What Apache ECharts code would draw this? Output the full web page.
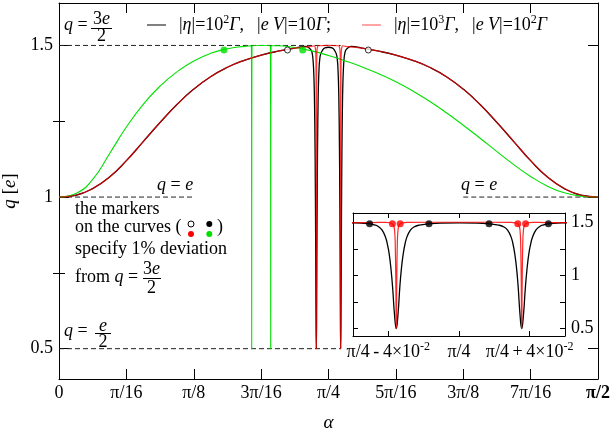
<!DOCTYPE html>
<html><head><meta charset="utf-8">
<script src="https://cdn.jsdelivr.net/npm/echarts@6/dist/echarts.min.js"></script>
<style>html,body{margin:0;padding:0;background:#fff}#c{width:611px;height:439px}</style>
</head><body><div id="c"></div>
<script>
const PI = Math.PI;
// ---------------- data ----------------
// main axis tick labels (alpha = i*pi/16)
const X_TICK_LABELS = ['0','π/16','π/8','3π/16','π/4','5π/16','3π/8','7π/16','π/2'];
const Y_MAJOR = [0.5, 1, 1.5];
const Y_MINOR = [0.75, 1.25];
// smooth envelopes sampled at alpha = k*pi/64, k = 0..32
const RB_ENV = [1.000,1.006,1.028,1.066,1.120,1.183,1.246,1.305,1.356,1.397,1.428,1.451,1.468,1.481,1.491,1.497,1.500,
                1.497,1.491,1.481,1.468,1.451,1.428,1.397,1.356,1.305,1.246,1.183,1.120,1.066,1.028,1.006,1.000];
const G_ENV  = [1.000,1.012,1.058,1.143,1.231,1.306,1.366,1.413,1.449,1.474,1.489,1.497,1.500,1.499,1.493,1.482,1.467,
                1.449,1.429,1.406,1.380,1.350,1.316,1.278,1.237,1.194,1.150,1.107,1.068,1.036,1.014,1.003,1.000];
// dip centres
const RB_DIP_OFF = [-0.0355, 0.0355];          // offset from pi/4 (rad)
const G_DIP_ALPHA = [0.5616, 0.617];           // rad
// black dip profile (left dip; right dip is its mirror about pi/4)
const BLACK_DIP_D = [-0.030,-0.024,-0.020,-0.0151,-0.012,-0.010,-0.008,-0.006,-0.005,-0.004,-0.003,-0.002,-0.001,0,
                     0.001,0.002,0.003,0.004,0.005,0.006,0.008,0.010,0.013,0.0185,0.025,0.0355];
const BLACK_DIP_Q = [1.497,1.494,1.491,1.485,1.474,1.458,1.425,1.355,1.29,1.20,1.06,0.87,0.63,0.5,
                     0.64,0.89,1.08,1.21,1.30,1.36,1.425,1.455,1.473,1.485,1.492,1.494];
// red dip profile
const RED_DIP_D = [-0.006,-0.0035,-0.0022,-0.0014,-0.0009,-0.0006,-0.0003,0,0.0003,0.0006,0.0009,0.0014,0.0022,0.0035,0.006];
const RED_DIP_Q = [1.499,1.494,1.485,1.465,1.41,1.30,1.00,0.5,1.00,1.30,1.41,1.465,1.485,1.494,1.499];
// green dip profile
const GREEN_DIP_D = [-0.0015,-0.0006,-0.0002,0,0.0002,0.0006,0.0015];
const GREEN_DIP_Q = [1.499,1.45,1.10,0.5,1.10,1.45,1.499];
// 1% deviation markers
const MARK_Q = 1.485;
const OPEN_MARK_A = [0.6659, 0.9014];
const GREEN_MARK_A = [0.4809, 0.7102];
const BLACK_MARK_OFF = [-0.0506, -0.017, 0.017, 0.0506];
const RED_MARK_OFF = [-0.0377, -0.0333, 0.0333, 0.0377];
// dashed guide lines
const GUIDE_Q    = [1.5, 1, 1, 0.5];
const GUIDE_FROM = [0, 0, 3*PI/8, 0];
const GUIDE_TO   = [PI/4+0.0355, PI/8, PI/2, PI/4+0.0355];
// inset
const INSET_OFF = [-0.04, 0, 0.04];
const INSET_LABELS = ['{n|π/4\u2009-\u20094×10}{s|-2}', '{n|π/4}', '{n|π/4\u2009+\u20094×10}{s|-2}'];
const INSET_Y_TICKS = [0.5, 0.75, 1, 1.25, 1.5];

// ---------------- build ----------------
const F = '"Liberation Serif","Times New Roman",serif';
const FS = 18;
function buildCurve(env, dips) {
  const wins = dips.map(([as]) => [Math.min(...as), Math.max(...as)]);
  const pts = [];
  env.forEach((q, k) => { const a = k * PI / 64; if (!wins.some(w => a >= w[0] && a <= w[1])) pts.push([a, q]); });
  dips.forEach(([as, qs]) => as.forEach((a, i) => pts.push([a, qs[i]])));
  pts.sort((p, r) => p[0] - r[0]);
  return pts;
}
const blackData = buildCurve(RB_ENV, [
  [BLACK_DIP_D.map(d => PI/4 + RB_DIP_OFF[0] + d), BLACK_DIP_Q],
  [BLACK_DIP_D.map(d => PI/4 + RB_DIP_OFF[1] - d), BLACK_DIP_Q]]);
const redData = buildCurve(RB_ENV, RB_DIP_OFF.map(c => [RED_DIP_D.map(d => PI/4 + c + d), RED_DIP_Q]));
const greenData = buildCurve(G_ENV, G_DIP_ALPHA.map(c => [GREEN_DIP_D.map(d => c + d), GREEN_DIP_Q]));

const xTickVals = X_TICK_LABELS.map((_, i) => i * PI / 16);
const insetTickVals = INSET_OFF.map(d => PI/4 + d);

const lbl = {color:'#000', fontFamily:F, fontSize:FS};
function ax(o) {
  return Object.assign({type:'value', splitLine:{show:false},
    axisLine:{show:true, onZero:false, lineStyle:{color:'#000', width:1}},
    axisLabel:{show:false}}, o);
}
function tk(vals, len) { return {show:true, inside:true, length:len, customValues:vals, lineStyle:{color:'#000', width:1}}; }

const xAxis = [
  ax({gridIndex:0, min:0, max:PI/2, position:'bottom', axisTick:tk(xTickVals, 10),
      axisLabel:Object.assign({show:true, customValues:xTickVals, margin:5,
        formatter:v => { const i = Math.round(v/(PI/16)); return i === 8 ? '{b|π/2}' : X_TICK_LABELS[i]; },
        rich:{b:{fontFamily:F, fontSize:FS, fontWeight:'bold', color:'#000'}}}, lbl),
      name:'α', nameLocation:'middle', nameGap:34,
      nameTextStyle:{fontFamily:F, fontSize:19, fontStyle:'italic', color:'#000'}}),
  ax({gridIndex:0, min:0, max:PI/2, position:'top', axisTick:tk(xTickVals, 10)}),
  ax({gridIndex:1, min:PI/4-0.06, max:PI/4+0.06, position:'bottom', axisTick:tk(insetTickVals, 5), z:20,
      axisLabel:Object.assign({show:true, customValues:insetTickVals, margin:5,
        formatter:v => INSET_LABELS[Math.round((v - PI/4)/0.04) + 1],
        rich:{n:{fontFamily:F, fontSize:FS, color:'#000', lineHeight:22},
              s:{fontFamily:F, fontSize:12, color:'#000', verticalAlign:'top', lineHeight:12}}}, lbl)}),
  ax({gridIndex:1, min:PI/4-0.06, max:PI/4+0.06, position:'top', axisTick:tk(insetTickVals, 5), z:20})
];
const yAxis = [
  ax({gridIndex:0, min:0.4, max:1.64, position:'left', axisTick:tk(Y_MAJOR, 10),
      axisLabel:Object.assign({show:true, customValues:Y_MAJOR, margin:6, formatter:v => String(v)}, lbl),
      name:'{i|q} [{i|e}]', nameLocation:'middle', nameGap:32,
      nameTextStyle:{fontFamily:F, fontSize:19, color:'#000', rich:{i:{fontFamily:F, fontSize:19, fontStyle:'italic', color:'#000'}}}}),
  ax({gridIndex:0, min:0.4, max:1.64, position:'left', axisLine:{show:false}, axisTick:tk(Y_MINOR, 6)}),
  ax({gridIndex:0, min:0.4, max:1.64, position:'right', axisTick:tk(Y_MAJOR, 10)}),
  ax({gridIndex:0, min:0.4, max:1.64, position:'right', axisLine:{show:false}, axisTick:tk(Y_MINOR, 6)}),
  ax({gridIndex:1, min:0.43, max:1.587, position:'right', axisTick:tk(INSET_Y_TICKS, 5), z:20,
      axisLabel:Object.assign({show:true, customValues:Y_MAJOR, margin:6, formatter:v => String(v)}, lbl)}),
  ax({gridIndex:1, min:0.43, max:1.587, position:'left', axisTick:tk(INSET_Y_TICKS, 5), z:20})
];

const series = [];
GUIDE_Q.forEach((q, i) => series.push({type:'line', xAxisIndex:0, yAxisIndex:0, silent:true, symbol:'none', z:1,
  data:[[GUIDE_FROM[i], q], [GUIDE_TO[i], q]], lineStyle:{color:'#222', width:1, type:[5,3]}}));
const lineS = (name, data, color, w, xi, yi, z, op) => ({type:'line', name, data, xAxisIndex:xi, yAxisIndex:yi,
  symbol:'none', smooth:0.5, z, clip:true, itemStyle:{color}, lineStyle:{color, width:w, opacity:op||1}});
series.push(lineS('L1', blackData, '#000', 1.3, 0, 0, 3));
series.push(lineS('G', greenData, '#00e000', 1.1, 0, 0, 4));
series.push(lineS('L2', redData, '#ff0000', 1.2, 0, 0, 5, 0.78));
series.push({type:'scatter', xAxisIndex:0, yAxisIndex:0, z:6, symbolSize:6,
  data:OPEN_MARK_A.map(a => [a, MARK_Q]), itemStyle:{color:'#fff', borderColor:'#000', borderWidth:1}});
series.push({type:'scatter', xAxisIndex:0, yAxisIndex:0, z:6, symbolSize:7,
  data:GREEN_MARK_A.map(a => [a, MARK_Q]), itemStyle:{color:'#00e000'}});
// inset
series.push(lineS('L1', blackData, '#000', 1.3, 2, 4, 21));
series.push(lineS('L2', redData, '#ff0000', 1.2, 2, 4, 22, 0.85));
series.push({type:'scatter', xAxisIndex:2, yAxisIndex:4, z:23, symbolSize:7,
  data:BLACK_MARK_OFF.map(d => [PI/4 + d, MARK_Q]), itemStyle:{color:'#000'}});
series.push({type:'scatter', xAxisIndex:2, yAxisIndex:4, z:23, symbolSize:7,
  data:RED_MARK_OFF.map(d => [PI/4 + d, MARK_Q]), itemStyle:{color:'#ff0000'}});

// ---------------- annotations ----------------
const R = {n:{font:`${FS}px ${F}`, fill:'#000'}, i:{font:`italic ${FS}px ${F}`, fill:'#000'}};
function T(x, y, text, align) {
  return {type:'text', x, y, z:50, style:{text, rich:R, font:`${FS}px ${F}`, fill:'#000',
    align:align||'left', verticalAlign:'middle', textAlign:align||'left', textVerticalAlign:'middle'}};
}
function L(x1, y1, x2, y2) { return {type:'line', z:50, shape:{x1, y1, x2, y2}, style:{stroke:'#000', lineWidth:1}}; }
function C(x, y, fill, stroke) { return {type:'circle', z:50, shape:{cx:x, cy:y, r:3}, style:{fill, stroke:stroke||null, lineWidth:1}}; }
const graphic = [
  T(64, 25, '{i|q}{n| =}'), T(101.5, 19.5, '{n|3}{i|e}', 'center'), L(91, 28.5, 112, 28.5), T(101.5, 36.5, '{n|2}', 'center'),
  T(157, 185, '{i|q}{n| = }{i|e}'), T(461, 185, '{i|q}{n| = }{i|e}'),
  T(64, 331, '{i|q}{n| =}'), T(103, 326, '{i|e}', 'center'), L(95, 333.5, 111, 333.5), T(103, 342, '{n|2}', 'center'),
  T(75, 209.5, '{n|the markers}'),
  T(75, 227, '{n|on the curves (}'), T(217, 227, '{n|)}'),
  C(191, 224, '#fff', '#000'), C(209.3, 224, '#000'), C(191, 234, '#ff0000'), C(209.3, 234, '#00e000'),
  T(75, 249.5, '{n|specify 1% deviation}'),
  T(75, 277.5, '{n|from }{i|q}{n| =}'), T(151.5, 269.5, '{n|3}{i|e}', 'center'), L(143, 278.5, 161, 278.5), T(151.5, 288, '{n|2}', 'center')
];

const LEGRICH = {
  g:{width:8}, w:{width:13},
  n:{fontFamily:F, fontSize:FS, color:'#000', lineHeight:22},
  i:{fontFamily:F, fontSize:FS, fontStyle:'italic', color:'#000', lineHeight:22},
  s:{fontFamily:F, fontSize:12, color:'#000', verticalAlign:'top', lineHeight:12}
};
const LEG1 = '{g|}{n||}{i|η}{n||=10}{s|2}{i|Γ}{n|,}{w|}{n||}{i|e V}{n||=10}{i|Γ}{n|;}';
const LEG2 = '{g|}{n||}{i|η}{n||=10}{s|3}{i|Γ}{n|,}{w|}{n||}{i|e V}{n||=10}{s|2}{i|Γ}';
const legBase = {top:14, padding:0, icon:'rect', itemWidth:19, itemHeight:1, selectedMode:false,
  textStyle:{fontFamily:F, fontSize:FS, color:'#000', rich:LEGRICH}};

const chart = echarts.init(document.getElementById('c'), null, {renderer:'canvas'});
chart.setOption({
  animation:false,
  backgroundColor:'#fff',
  grid:[
    {left:59, right:13, top:3, bottom:60, show:false, containLabel:false, outerBoundsMode:'none'},
    {left:353, right:46, top:213, bottom:103, show:true, backgroundColor:'#fff', borderWidth:0, z:15,
     containLabel:false, outerBoundsMode:'none'}
  ],
  legend:[
    Object.assign({}, legBase, {left:147, data:[{name:'L1', itemStyle:{color:'#000'}}], formatter:() => LEG1}),
    Object.assign({}, legBase, {left:362, data:[{name:'L2', itemStyle:{color:'#ff4a4a'}}], formatter:() => LEG2})
  ],
  xAxis, yAxis, series, graphic
});
</script></body></html>
